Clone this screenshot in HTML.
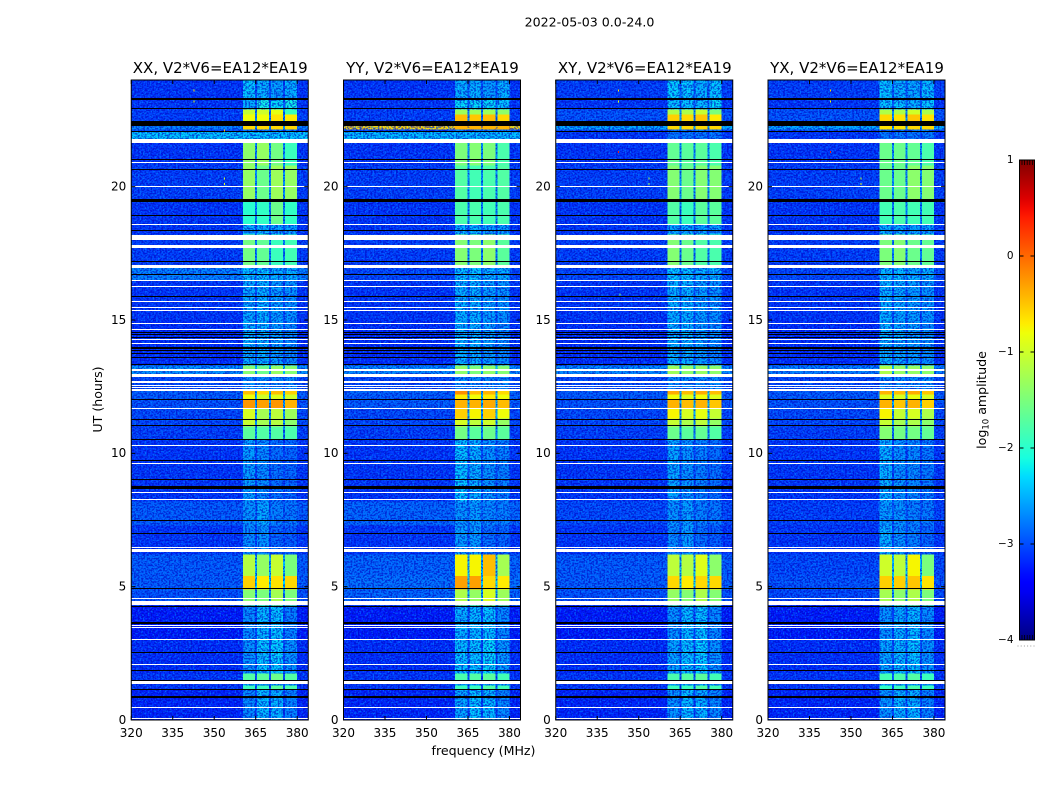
<!DOCTYPE html>
<html>
<head>
<meta charset="utf-8">
<title>2022-05-03 spectrogram</title>
<style>
html,body{margin:0;padding:0;background:#fff;width:1050px;height:800px;overflow:hidden}
svg{display:block}
text{font-family:"DejaVu Sans","Liberation Sans",sans-serif;fill:#000}
</style>
</head>
<body>
<svg id="fig" xmlns="http://www.w3.org/2000/svg" width="1050" height="800" viewBox="0 0 1050 800">
<defs>
<filter id="speckle-light" x="0" y="0" width="100%" height="100%" color-interpolation-filters="sRGB">
<feTurbulence type="fractalNoise" baseFrequency="0.6 0.55" numOctaves="1" seed="4"/>
<feColorMatrix type="matrix" values="0 0 0 0 0  0 0 0 0 0.55  0 0 0 0 1  6 0 0 0 -3"/>
</filter>
<filter id="speckle-dark" x="0" y="0" width="100%" height="100%" color-interpolation-filters="sRGB">
<feTurbulence type="fractalNoise" baseFrequency="0.55 0.6" numOctaves="1" seed="11"/>
<feColorMatrix type="matrix" values="0 0 0 0 0  0 0 0 0 0  0 0 0 0 0.75  6 0 0 0 -2.7"/>
</filter>
<linearGradient id="jet-gradient" x1="0" y1="1" x2="0" y2="0"></linearGradient>
</defs>
<text x="589.5" y="26.5" font-size="12.6" text-anchor="middle">2022-05-03 0.0-24.0</text>
<text x="483.5" y="755" font-size="12.6" text-anchor="middle">frequency (MHz)</text>
<text transform="translate(102,399.5) rotate(-90)" font-size="12.6" text-anchor="middle">UT (hours)</text>
<text transform="translate(986,400) rotate(-90)" font-size="12.6" text-anchor="middle">log<tspan font-size="8.5" dy="2.5">10</tspan><tspan dy="-2.5"> amplitude</tspan></text>
<g id="panels"></g>
<g id="colorbar"></g>
</svg>
<script>
// Axis tick labels
const xTicks = [320, 335, 350, 365, 380];
const yTicks = [0, 5, 10, 15, 20];
const cbarTicks = [-4, -3, -2, -1, 0, 1];
const panelTitles = ["XX, V2*V6=EA12*EA19", "YY, V2*V6=EA12*EA19", "XY, V2*V6=EA12*EA19", "YX, V2*V6=EA12*EA19"];

// Time segments (UT hours) for heatmap rows
const utEdges = [0,1.13,1.3,1.5,1.75,3,4.3,4.9,5.4,6.2,7.3,8.2,10.5,11,11.3,11.7,12,12.2,12.4,12.9,13.3,15,16.5,17,18.2,18.6,19.5,20.8,21.7,22.05,22.15,22.3,22.7,22.9,23.3,24];
// Frequency channels (MHz)
const channelStart = [360.4, 365.5, 370.5, 375.6];
const channelEnd = [364.8, 369.8, 374.9, 380];

// log10 amplitude per time segment: [background, ch1, ch2, ch3, ch4, channel gap]
const xxRows = [
[-3.2,-2.65,-2.4,-2.45,-2.7,-3.05],[-3.1,-1.9,-1.9,-1.7,-1.8,-2.95],[-3.1,-2.45,-2.45,-2.45,-2.55,-2.95],[-3.1,-1.75,-1.7,-1.6,-1.75,-2.95],
[-3.15,-2.6,-2.35,-2.3,-2.6,-3],[-3.25,-2.65,-2.4,-2.35,-2.7,-3.05],[-2.95,-1.45,-1.5,-1.25,-1.5,-2.6],[-2.9,-0.55,-0.7,-0.65,-0.6,-2.3],
[-2.9,-1.15,-1.35,-1.05,-1.5,-2.4],[-3.1,-2.65,-2.6,-2.85,-2.9,-3.05],[-2.9,-2.6,-2.5,-2.7,-2.75,-2.9],[-3.1,-2.55,-2.65,-2.8,-2.85,-3.05],
[-3.05,-1.7,-1.75,-1.75,-1.8,-2.7],[-3,-1.05,-1.25,-1.15,-1.4,-2.6],[-3,-0.95,-1.25,-1.1,-1.3,-2.6],[-2.95,-0.25,-0.3,-0.25,-0.4,-2.5],
[-2.9,-0.8,-1,-0.9,-1,-2.5],[-2.9,-0.45,-0.6,-0.45,-0.55,-2.5],[-3,-2.65,-2.65,-2.65,-2.65,-2.95],[-2.6,-1.45,-1.6,-1.35,-1.45,-2.4],
[-3.15,-2.45,-2.45,-2.55,-2.65,-3],[-3.1,-2.5,-2.45,-2.55,-2.6,-3],[-2.7,-2.35,-2.35,-2.45,-2.45,-2.75],[-3.05,-1.55,-1.65,-1.9,-1.85,-2.7],
[-3.1,-2.45,-2.45,-2.55,-2.55,-2.95],[-3.1,-2,-1.95,-1.6,-1.95,-2.7],[-3.05,-1.35,-1.6,-1.3,-1.35,-2.6],[-3.1,-1.4,-1.35,-1.55,-1.9,-2.6],
[-2.35,-2.35,-2.35,-2.35,-2.35,-2.35],[-3,-2.75,-2.75,-2.75,-2.75,-2.95],[-2.7,-0.6,-0.6,-0.6,-0.6,-2.6],[-3.05,-0.8,-0.8,-0.65,-0.7,-2.7],[-3.05,-1.05,-1,-0.85,-1.9,-2.7],
[-3.1,-2.45,-2.15,-2.25,-2.15,-2.95],[-3.1,-2.35,-2.45,-2.55,-2.45,-3]];
const yyRows = [
[-3.2,-2.5,-2.35,-2.4,-2.65,-3.05],[-3.1,-1.9,-1.9,-1.75,-1.85,-2.95],[-3.1,-2.45,-2.45,-2.45,-2.55,-2.95],[-3.1,-1.8,-1.75,-1.7,-1.85,-2.95],
[-3.15,-2.35,-2.35,-2.25,-2.55,-3],[-3.25,-2.45,-2.4,-2.35,-2.65,-3.05],[-2.85,-1.2,-1.35,-0.95,-1.3,-2.5],[-2.8,-0.3,-0.3,-0.6,-0.7,-2.3],
[-2.85,-0.75,-0.75,-0.45,-1.25,-2.4],[-3.1,-2.55,-2.55,-2.8,-2.85,-3.05],[-2.85,-2.6,-2.55,-2.65,-2.7,-2.85],[-3.1,-2.35,-2.45,-2.6,-2.7,-3],
[-3.05,-1.55,-1.7,-1.6,-1.7,-2.7],[-3,-0.95,-1.1,-1,-1.35,-2.6],[-3,-0.55,-0.75,-0.55,-0.8,-2.5],[-2.9,-0.4,-0.4,-0.35,-0.45,-2.4],
[-2.9,-0.7,-0.8,-0.7,-0.8,-2.4],[-2.85,-0.2,-0.45,-0.4,-0.6,-2.4],[-3,-2.65,-2.65,-2.65,-2.65,-2.95],[-2.65,-1.4,-1.5,-1.4,-1.45,-2.4],
[-3.15,-2.45,-2.45,-2.55,-2.65,-3],[-3.1,-2.45,-2.45,-2.55,-2.6,-3],[-3,-2.35,-2.35,-2.45,-2.45,-2.85],[-3.05,-1.45,-1.5,-1.4,-1.7,-2.7],
[-3.1,-2.45,-2.45,-2.55,-2.55,-2.95],[-3.1,-1.8,-1.8,-1.85,-1.8,-2.7],[-3.05,-1.75,-1.85,-1.8,-1.75,-2.6],[-3.1,-1.5,-1.45,-1.5,-1.8,-2.6],
[-2.4,-2.4,-2.4,-2.4,-2.4,-2.4],[-3,-2.75,-2.75,-2.75,-2.75,-2.95],[-0.6,-0.4,-0.4,-0.4,-0.4,-0.5],[-3.05,-0.45,-0.5,-0.45,-0.6,-2.7],[-3.05,-1.3,-1.3,-1.3,-1.4,-2.7],
[-3.1,-2.25,-2.25,-2.25,-2.35,-2.95],[-3.1,-2.45,-2.45,-2.55,-2.45,-3]];
const xyRows = [
[-3.2,-2.6,-2.4,-2.45,-2.65,-3.05],[-3.1,-1.9,-1.9,-1.75,-1.85,-2.95],[-3.1,-2.45,-2.45,-2.45,-2.55,-2.95],[-3.1,-1.8,-1.75,-1.7,-1.85,-2.95],
[-3.15,-2.5,-2.35,-2.3,-2.6,-3],[-3.25,-2.6,-2.4,-2.35,-2.65,-3.05],[-2.95,-1.35,-1.45,-1.2,-1.45,-2.6],[-2.9,-0.6,-0.7,-0.6,-0.6,-2.3],
[-2.9,-1.1,-1.15,-0.9,-1.4,-2.4],[-3.1,-2.65,-2.55,-2.8,-2.9,-3.05],[-3,-2.6,-2.55,-2.7,-2.75,-2.95],[-3.1,-2.5,-2.6,-2.7,-2.8,-3.05],
[-3.05,-1.6,-1.7,-1.65,-1.75,-2.7],[-3,-1.05,-1.2,-1.1,-1.35,-2.6],[-3,-0.75,-0.95,-0.85,-1.05,-2.5],[-2.95,-0.4,-0.45,-0.4,-0.5,-2.4],
[-2.9,-0.8,-0.9,-0.8,-0.9,-2.4],[-2.9,-0.35,-0.45,-0.35,-0.45,-2.4],[-3,-2.65,-2.65,-2.65,-2.65,-2.95],[-2.65,-1.3,-1.4,-1.35,-1.4,-2.4],
[-3.15,-2.45,-2.45,-2.55,-2.65,-3],[-3.1,-2.45,-2.45,-2.55,-2.6,-3],[-3,-2.35,-2.35,-2.45,-2.45,-2.85],[-3.05,-1.45,-1.6,-1.75,-1.8,-2.7],
[-3.1,-2.5,-2.5,-2.55,-2.55,-2.95],[-3.1,-1.75,-1.9,-1.7,-1.7,-2.7],[-3.05,-1.45,-1.6,-1.45,-1.45,-2.6],[-3.1,-1.65,-1.7,-1.7,-1.8,-2.6],
[-3.1,-2.75,-2.75,-2.75,-2.75,-3.05],[-3,-2.75,-2.75,-2.75,-2.75,-2.95],[-2.5,-0.6,-0.6,-0.6,-0.6,-2.5],[-2.95,-0.55,-0.6,-0.5,-0.7,-2.6],[-2.95,-1.2,-1.2,-1.05,-1.5,-2.6],
[-3.1,-2.35,-2.35,-2.4,-2.25,-2.95],[-3.05,-2.3,-2.35,-2.45,-2.35,-2.95]];
const yxRows = [
[-3.2,-2.6,-2.45,-2.45,-2.7,-3.05],[-3.1,-1.95,-1.9,-1.8,-1.9,-2.95],[-3.1,-2.45,-2.45,-2.45,-2.55,-2.95],[-3.1,-1.85,-1.8,-1.75,-1.9,-2.95],
[-3.15,-2.5,-2.4,-2.35,-2.6,-3],[-3.25,-2.6,-2.45,-2.4,-2.65,-3.05],[-3,-1.25,-1.4,-1.2,-1.5,-2.6],[-2.95,-0.55,-0.55,-0.5,-0.65,-2.3],
[-3,-1,-1.1,-0.75,-1.5,-2.4],[-3.1,-2.45,-2.6,-2.7,-2.85,-3.05],[-3.05,-2.55,-2.6,-2.7,-2.75,-2.95],[-3.1,-2.45,-2.6,-2.65,-2.75,-3.05],
[-3.05,-1.45,-1.55,-1.55,-1.65,-2.7],[-3,-1.05,-1.25,-1.2,-1.4,-2.6],[-3,-0.75,-1.05,-0.95,-1.2,-2.5],[-2.95,-0.4,-0.5,-0.4,-0.55,-2.4],
[-2.9,-0.9,-0.95,-0.85,-0.95,-2.4],[-2.9,-0.4,-0.45,-0.35,-0.5,-2.4],[-3,-2.65,-2.65,-2.65,-2.65,-2.95],[-2.7,-1.2,-1.35,-1.35,-1.4,-2.4],
[-3.15,-2.45,-2.5,-2.55,-2.65,-3],[-3.1,-2.45,-2.5,-2.55,-2.6,-3],[-3,-2.4,-2.4,-2.45,-2.45,-2.85],[-3.05,-1.5,-1.45,-1.6,-1.65,-2.7],
[-3.1,-2.45,-2.5,-2.55,-2.55,-2.95],[-3.1,-1.85,-1.8,-1.85,-1.85,-2.7],[-3.05,-1.6,-1.6,-1.4,-1.45,-2.6],[-3.1,-1.6,-1.6,-1.65,-1.8,-2.6],
[-3.1,-2.75,-2.75,-2.75,-2.75,-3.05],[-3,-2.75,-2.75,-2.75,-2.75,-2.95],[-2.5,-0.65,-0.65,-0.6,-0.6,-2.5],[-2.95,-0.6,-0.65,-0.5,-0.65,-2.6],[-2.95,-1.2,-1.2,-1,-1.2,-2.6],
[-3.1,-2.35,-2.35,-2.45,-2.35,-2.95],[-3.05,-2.35,-2.45,-2.5,-2.4,-2.95]];
const panelRows = [xxRows, yyRows, xyRows, yxRows];

// Flagged (no data) time samples: centre UT and thickness in hours
const whiteFlagUt = [0.07,0.46,1.38,2.07,3.01,3.47,3.54,4.37,4.55,6.35,6.48,8.28,8.53,9.63,10.29,11.68,12.36,12.47,12.54,12.67,12.91,13.14,14.13,14.27,14.65,14.87,15.36,15.47,15.68,16.27,16.48,17.02,17.77,18,18.13,18.58,20,20.9,21.73,22.45];
const whiteFlagSpan = [.04,.04,.13,.04,.04,.04,.04,.15,.04,.11,.04,.04,.04,.04,.04,.04,.08,.04,.04,.07,.13,.08,.04,.04,.04,.04,.04,.04,.04,.04,.04,.11,.11,.04,.15,.04,.04,.04,.15,.04];
const blackFlagUt = [0.855,1.155,1.49,1.87,2.54,3.66,4.27,4.94,6.98,7.47,8.73,9.01,9.73,10.52,11.04,11.27,12.02,13.33,13.6,13.74,13.85,13.92,13.98,14.35,14.44,14.54,15.88,16.71,17.2,18.36,18.92,19.48,20.64,21.03,22.07,22.37,22.93,23.28];
const blackFlagSpan = [.08,.04,.04,.04,.04,.06,.04,.04,.04,.04,.11,.04,.04,.04,.04,.04,.04,.04,.04,.04,.04,.04,.04,.04,.04,.04,.04,.04,.04,.04,.04,.11,.04,.04,.04,.17,.04,.09];

// Isolated interference spots: panel index, MHz, UT, log10 amplitude
const rfiPanel = [0,0,0,0,0,2,2,2,2,2,2,3,3,3,3,3];
const rfiFreq = [353.5,353.5,353.5,342.5,342.5,353.5,353.5,342.5,342.5,342.5,343,353.5,353.5,342.5,342.5,342.5];
const rfiUt = [20.1,20.3,22.1,23.2,23.6,20.1,20.3,21.3,23.2,23.6,15.95,20.1,20.3,21.3,23.2,23.6];
const rfiLevel = [-0.9,-1,-0.5,-0.9,-0.6,-1.3,-1.2,0.4,-0.9,-0.7,-1.6,-0.9,-1.1,0.4,-0.8,-0.6];

const NS = "http://www.w3.org/2000/svg";
const panelLeft = [131.25, 343.5, 555.75, 768];
const axW = 177, axTop = 80, axBottom = 720;
const fMin = 320, fMax = 384, utMax = 24, cMin = -4, cMax = 1;
const smoothAbove = -2.05;

function ramp(t, pts){
  for(let i = 1; i < pts.length; i++){
    if(t <= pts[i][0]){
      const a = pts[i-1], b = pts[i];
      return a[1] + (b[1]-a[1]) * (t-a[0]) / (b[0]-a[0]);
    }
  }
  return pts[pts.length-1][1];
}
function jet(v){
  const t = Math.max(0, Math.min(1, (v-cMin)/(cMax-cMin)));
  const r = ramp(t, [[0,0],[.35,0],[.66,1],[.89,1],[1,.5]]);
  const g = ramp(t, [[0,0],[.125,0],[.375,1],[.64,1],[.91,0],[1,0]]);
  const b = ramp(t, [[0,.5],[.11,1],[.34,1],[.65,0],[1,0]]);
  return "rgb(" + Math.round(r*255) + "," + Math.round(g*255) + "," + Math.round(b*255) + ")";
}
function make(tag, attrs, parent){
  const el = document.createElementNS(NS, tag);
  for(const k in attrs) el.setAttribute(k, attrs[k]);
  parent.appendChild(el);
  return el;
}
function yOf(ut){ return axBottom - (ut/utMax) * (axBottom-axTop); }
function flagBox(ut, span, left, parent, colour){
  const top = Math.round(yOf(ut + span/2));
  const h = Math.max(1, Math.round(span * (axBottom-axTop) / utMax));
  return make("rect", {x: left, y: top, width: axW, height: h, fill: colour}, parent);
}

const panelsG = document.getElementById("panels");
panelTitles.forEach(function(title, p){
  const left = panelLeft[p];
  const xOf = function(f){ return left + (f-fMin)/(fMax-fMin) * axW; };
  const g = make("g", {}, panelsG);
  
  

  const clipId = "clip" + p;
  const clip = make("clipPath", {id: clipId}, g);
  make("rect", {x: left, y: axTop, width: axW, height: axBottom-axTop}, clip);
  const plot = make("g", {"clip-path": "url(#" + clipId + ")", "shape-rendering": "crispEdges"}, g);
  const under = make("g", {}, plot);
  const noiseLayer = make("g", {}, plot);
  const over = make("g", {}, plot);

  panelRows[p].forEach(function(row, r){
    const y0 = yOf(utEdges[r+1]), y1 = yOf(utEdges[r]);
    const bg = make("rect", {x: xOf(fMin), y: y0, width: xOf(fMax)-xOf(fMin), height: y1-y0, fill: jet(row[0])}, under);
    
    
    const gap = make("rect", {x: xOf(channelStart[0]), y: y0, width: xOf(channelEnd[3])-xOf(channelStart[0]), height: y1-y0, fill: jet(row[5])}, under);
    
    
    channelStart.forEach(function(fs, c){
      const layer = row[c+1] > smoothAbove ? over : under;
      const cell = make("rect", {x: xOf(fs), y: y0, width: xOf(channelEnd[c])-xOf(fs), height: y1-y0, fill: jet(row[c+1])}, layer);
      
      
    });
  });

  const lightNoise = make("rect", {x: left, y: axTop, width: axW, height: axBottom-axTop, filter: "url(#speckle-light)", opacity: .6}, noiseLayer);
  
  
  const darkNoise = make("rect", {x: left, y: axTop, width: axW, height: axBottom-axTop, filter: "url(#speckle-dark)", opacity: .6}, noiseLayer);
  
  

  whiteFlagUt.forEach(function(ut, i){
    const el = flagBox(ut, whiteFlagSpan[i], left, over, "#fff");
    
    
  });
  blackFlagUt.forEach(function(ut, i){
    const el = flagBox(ut, blackFlagSpan[i], left, over, "#000");
    
    
  });
  rfiPanel.forEach(function(pi, i){
    if(pi !== p) return;
    const el = make("rect", {x: xOf(rfiFreq[i]), y: yOf(rfiUt[i]) - 1, width: 1, height: 2, fill: jet(rfiLevel[i])}, over);
    
    
  });

  const frame = make("rect", {x: left, y: axTop, width: axW, height: axBottom-axTop, fill: "none", stroke: "#000", "stroke-width": 1}, g);
  
  

  xTicks.forEach(function(t){
    const x = xOf(t);
    const b = make("line", {x1: x, x2: x, y1: axBottom, y2: axBottom-4, stroke: "#000", "stroke-width": 1}, g);
    
    
    const tp = make("line", {x1: x, x2: x, y1: axTop, y2: axTop+4, stroke: "#000", "stroke-width": 1}, g);
    
    
    const lab = make("text", {x: x, y: 737, "font-size": 12, "text-anchor": "middle"}, g);
    
    
    lab.textContent = t;
  });
  yTicks.forEach(function(t){
    const y = yOf(t);
    const l = make("line", {x1: left, x2: left+4, y1: y, y2: y, stroke: "#000", "stroke-width": 1}, g);
    
    
    const rt = make("line", {x1: left+axW, x2: left+axW-4, y1: y, y2: y, stroke: "#000", "stroke-width": 1}, g);
    
    
    const lab = make("text", {x: left-5, y: y+3.8, "font-size": 12, "text-anchor": "end"}, g);
    
    
    lab.textContent = t;
  });
  const tt = make("text", {x: left+axW/2 + 0.5, y: 73, "font-size": 15, "text-anchor": "middle"}, g);
  
  
  tt.textContent = title;
});

// Colorbar
const grad = document.getElementById("jet-gradient");
for(let i = 0; i <= 50; i++){
  make("stop", {offset: (i*2) + "%", "stop-color": jet(cMin + (cMax-cMin)*i/50)}, grad);
}
const cb = document.getElementById("colorbar");
const cbL = 1019.5, cbR = 1034.5, cbT = 160, cbB = 640;
const cbY = function(v){ return cbB - (v-cMin)/(cMax-cMin) * (cbB-cbT); };
const cbRect = make("rect", {x: cbL, y: cbT, width: cbR-cbL, height: cbB-cbT, fill: "url(#jet-gradient)", stroke: "#000", "stroke-width": 1}, cb);


cbarTicks.forEach(function(v){
  const y = cbY(v);
  const a = make("line", {x1: cbL, x2: cbL+4, y1: y, y2: y, stroke: "#000"}, cb);
  
  
  const b = make("line", {x1: cbR, x2: cbR-4, y1: y, y2: y, stroke: "#000"}, cb);
  
  
  const lab = make("text", {x: 1013.5, y: y+3.2, "font-size": 10.5, "text-anchor": "end"}, cb);
  
  
  lab.textContent = String(v).replace("-", "\u2212");
});
for(let i = 0; i < 5; i++){
  const x = 1022 + i*2.6;
  const t = make("line", {x1: x, x2: x, y1: cbT, y2: cbT+5, stroke: "#000", "stroke-width": .8}, cb);
  
  
  const u = make("line", {x1: x, x2: x, y1: cbB, y2: cbB-5, stroke: "#000", "stroke-width": .8}, cb);
  
  
}
for(let i = 0; i < 6; i++){
  const d = make("rect", {x: 1017.5 + i*3.2, y: 645.5, width: 1, height: 1, fill: "#999"}, cb);
  
  
}
</script>
</body>
</html>
